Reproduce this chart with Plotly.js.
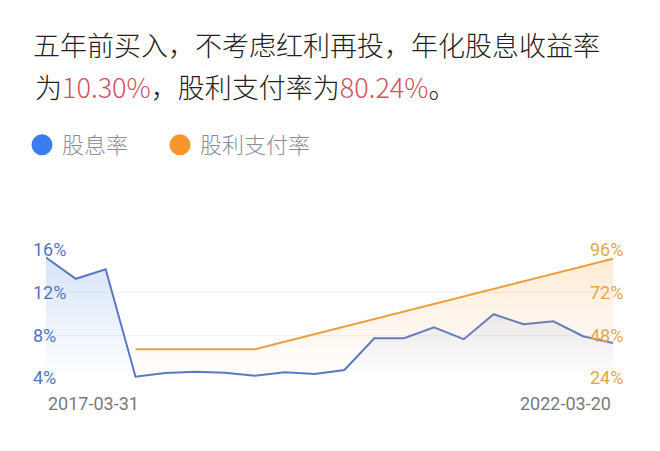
<!DOCTYPE html>
<html>
<head>
<meta charset="utf-8">
<script src="https://cdn.plot.ly/plotly-3.0.1.min.js"></script>
<style>
html,body{margin:0;padding:0;background:#fff;}
#chart{width:660px;height:451px;}
</style>
</head>
<body>
<div id="chart"></div>
<script>
// ---- data ----
var periodIdx = [0,1,2,3,4,5,6,7,8,9,10,11,12,13,14,15,16,17,18,19];
var dividendYield = [15.3,13.3,14.2,4.12,4.47,4.59,4.5,4.21,4.53,4.37,4.75,7.73,7.73,8.76,7.64,9.98,9.04,9.32,7.92,7.27];
var payoutIdx = [3,7,19];
var payoutRatio = [40.2,40.2,91.1];
var dateLabels = ['2017-03-31','2022-03-20'];
var dateLabelIdx = [0,19];
var yieldTicks = [4,8,12,16];
var yieldTickText = ['4%','8%','12%','16%'];
var payoutTicks = [24,48,72,96];
var payoutTickText = ['24%','48%','72%','96%'];
var seriesNames = ['股息率','股利支付率'];
var summaryYield = '10.30%';
var summaryPayout = '80.24%';

var BLUE_LINE = '#5a78c5';
var ORANGE_LINE = '#eb9f3c';
var RED = '#d0525d';
var CJK = '"Noto Sans CJK SC", "Noto Sans", sans-serif';

var traces = [
  {
    x: periodIdx, y: dividendYield, type: 'scatter', mode: 'lines',
    line: {color: BLUE_LINE, width: 2},
    fill: 'tozeroy',
    fillgradient: {type: 'vertical', start: 4, stop: 16,
      colorscale: [[0, 'rgba(90,145,235,0)'], [1, 'rgba(90,145,235,0.26)']]},
    showlegend: false, hoverinfo: 'skip'
  },
  {
    x: payoutIdx, y: payoutRatio, type: 'scatter', mode: 'lines', yaxis: 'y2',
    line: {color: ORANGE_LINE, width: 2},
    fill: 'tozeroy',
    fillgradient: {type: 'vertical', start: 24, stop: 96,
      colorscale: [[0, 'rgba(248,165,70,0)'], [1, 'rgba(248,165,70,0.24)']]},
    showlegend: false, hoverinfo: 'skip'
  },
  {
    x: [null], y: [null], type: 'scatter', mode: 'markers', name: seriesNames[0],
    legend: 'legend',
    marker: {size: 16, color: '#3b7cf2', line: {color: '#3b7cf2', width: 5}}
  },
  {
    x: [null], y: [null], type: 'scatter', mode: 'markers', name: seriesNames[1],
    legend: 'legend2',
    marker: {size: 16, color: '#f7962d', line: {color: '#f7962d', width: 5}}
  }
];

var legendFont = {family: CJK, size: 22, color: '#8a8e9a', weight: 300};

var layout = {
  width: 660, height: 451,
  margin: {l: 46, r: 47, t: 250, b: 73, pad: 0},
  paper_bgcolor: '#ffffff', plot_bgcolor: '#ffffff',
  font: {family: CJK},
  title: {
    text: '五年前买入，不考虑红利再投，年化股息收益率',
    font: {family: CJK, size: 27, color: '#222222', weight: 300},
    xref: 'container', x: 33/660, xanchor: 'left',
    yref: 'container', y: 1 - 47/451, yanchor: 'middle'
  },
  showlegend: true,
  legend: {
    orientation: 'h', xref: 'container', yref: 'container',
    x: 22/660, xanchor: 'left', y: 1 - 145/451, yanchor: 'middle',
    font: legendFont, bgcolor: 'rgba(0,0,0,0)'
  },
  legend2: {
    orientation: 'h', xref: 'container', yref: 'container',
    x: 160/660, xanchor: 'left', y: 1 - 145/451, yanchor: 'middle',
    font: legendFont, bgcolor: 'rgba(0,0,0,0)'
  },
  xaxis: {
    range: [0, 19], showticklabels: false, showgrid: false, zeroline: false,
    showline: false, ticks: '', fixedrange: true
  },
  yaxis: {
    range: [4, 16], tickmode: 'array', tickvals: yieldTicks, ticktext: yieldTickText,
    ticklabelposition: 'inside', ticklabelstandoff: -16, ticklabeloverflow: 'allow',
    tickfont: {family: 'Roboto, sans-serif', size: 18, color: '#5275c1'},
    showgrid: true, gridcolor: '#f2f2f4', gridwidth: 1,
    zeroline: false, showline: false, ticks: '', automargin: false, fixedrange: true
  },
  yaxis2: {
    range: [24, 96], tickmode: 'array', tickvals: payoutTicks, ticktext: payoutTickText,
    overlaying: 'y', side: 'right',
    ticklabelstandoff: -24, ticklabeloverflow: 'allow',
    tickfont: {family: 'Roboto, sans-serif', size: 18, color: '#e9a448'},
    showgrid: false, zeroline: false, showline: false, ticks: '', automargin: false, fixedrange: true
  },
  annotations: [
    {
      xref: 'paper', yref: 'paper', x: (33 - 46) / 567, y: (378 - 86) / 128,
      xanchor: 'left', yanchor: 'middle', showarrow: false,
      text: '为<span style="color:' + RED + '">' + summaryYield + '</span>，股利支付率为<span style="color:' + RED + '">' + summaryPayout + '</span>。',
      font: {family: CJK, size: 27, color: '#222222', weight: 300}
    },
    {
      xref: 'x', yref: 'paper', x: dateLabelIdx[0], y: 0, yshift: -25,
      xanchor: 'left', yanchor: 'middle', showarrow: false,
      text: dateLabels[0], font: {family: 'Roboto, sans-serif', size: 18, color: '#7a7a7a'}
    },
    {
      xref: 'x', yref: 'paper', x: dateLabelIdx[1], y: 0, yshift: -25,
      xanchor: 'right', yanchor: 'middle', showarrow: false,
      text: dateLabels[1], font: {family: 'Roboto, sans-serif', size: 18, color: '#7a7a7a'}
    }
  ]
};

Plotly.newPlot('chart', traces, layout, {displayModeBar: false, staticPlot: true});
</script>
</body>
</html>
